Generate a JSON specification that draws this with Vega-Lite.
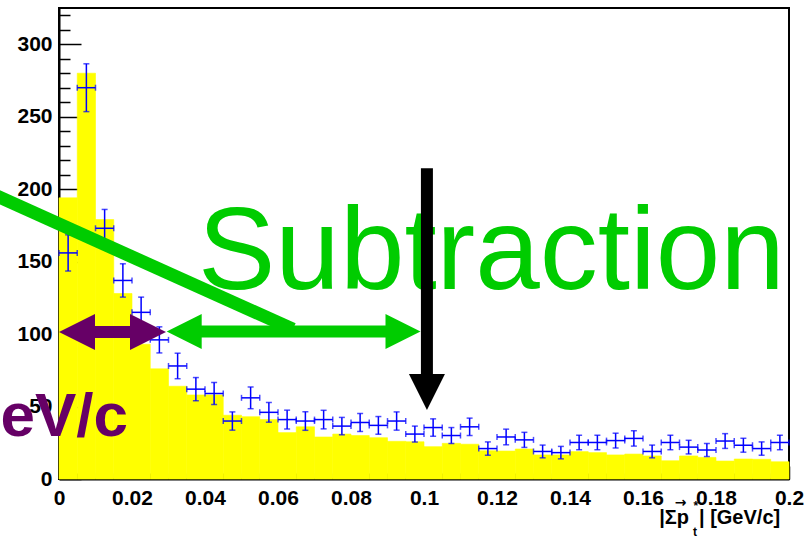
{
  "$schema": "https://vega.github.io/schema/vega-lite/v6.json",
  "width": 730,
  "height": 471,
  "autosize": {"type": "none"},
  "padding": {"left": 59, "top": 8, "right": 20, "bottom": 62},
  "background": "white",
  "config": {
    "view": {"stroke": "black", "strokeWidth": 2},
    "axis": {
      "labelFont": "Liberation Sans",
      "labelFontWeight": "bold",
      "labelFontSize": 21,
      "labelColor": "black",
      "domainColor": "black",
      "domainWidth": 2,
      "tickColor": "black",
      "tickWidth": 1.5,
      "grid": false,
      "labelFlush": false,
      "labelOverlap": false,
      "labelBound": false
    }
  },
  "resolve": {"axis": {"x": "independent", "y": "independent"}},
  "datasets": {
    "hist": [
      {"lo": 0.000, "hi": 0.005, "mid": 0.0025, "bg": 194, "sig": 156, "elo": 143.5, "ehi": 168.5},
      {"lo": 0.005, "hi": 0.010, "mid": 0.0075, "bg": 280, "sig": 270, "elo": 253.5, "ehi": 286.5},
      {"lo": 0.010, "hi": 0.015, "mid": 0.0125, "bg": 179, "sig": 173, "elo": 160, "ehi": 186},
      {"lo": 0.015, "hi": 0.020, "mid": 0.0175, "bg": 128, "sig": 137, "elo": 125.5, "ehi": 148.5},
      {"lo": 0.020, "hi": 0.025, "mid": 0.0225, "bg": 93, "sig": 115, "elo": 104.5, "ehi": 125.5},
      {"lo": 0.025, "hi": 0.030, "mid": 0.0275, "bg": 76, "sig": 96, "elo": 87, "ehi": 105},
      {"lo": 0.030, "hi": 0.035, "mid": 0.0325, "bg": 64, "sig": 78, "elo": 69.2, "ehi": 86.8},
      {"lo": 0.035, "hi": 0.040, "mid": 0.0375, "bg": 58, "sig": 62, "elo": 54, "ehi": 70},
      {"lo": 0.040, "hi": 0.045, "mid": 0.0425, "bg": 58, "sig": 59, "elo": 51.4, "ehi": 66.6},
      {"lo": 0.045, "hi": 0.050, "mid": 0.0475, "bg": 44, "sig": 40, "elo": 33.7, "ehi": 46.3},
      {"lo": 0.050, "hi": 0.055, "mid": 0.0525, "bg": 43, "sig": 56, "elo": 48.5, "ehi": 63.5},
      {"lo": 0.055, "hi": 0.060, "mid": 0.0575, "bg": 41, "sig": 46, "elo": 39.2, "ehi": 52.8},
      {"lo": 0.060, "hi": 0.065, "mid": 0.0625, "bg": 32, "sig": 41, "elo": 34.5, "ehi": 47.5},
      {"lo": 0.065, "hi": 0.070, "mid": 0.0675, "bg": 36, "sig": 40, "elo": 33.6, "ehi": 46.4},
      {"lo": 0.070, "hi": 0.075, "mid": 0.0725, "bg": 29, "sig": 41, "elo": 34.6, "ehi": 47.4},
      {"lo": 0.075, "hi": 0.080, "mid": 0.0775, "bg": 31, "sig": 36.5, "elo": 30.5, "ehi": 42.5},
      {"lo": 0.080, "hi": 0.085, "mid": 0.0825, "bg": 30, "sig": 39, "elo": 32.8, "ehi": 45.2},
      {"lo": 0.085, "hi": 0.090, "mid": 0.0875, "bg": 28.5, "sig": 37, "elo": 30.9, "ehi": 43.1},
      {"lo": 0.090, "hi": 0.095, "mid": 0.0925, "bg": 26, "sig": 40, "elo": 33.7, "ehi": 46.3},
      {"lo": 0.095, "hi": 0.100, "mid": 0.0975, "bg": 25.7, "sig": 31, "elo": 25.5, "ehi": 36.5},
      {"lo": 0.100, "hi": 0.105, "mid": 0.1025, "bg": 22.3, "sig": 35.5, "elo": 29.5, "ehi": 41.5},
      {"lo": 0.105, "hi": 0.110, "mid": 0.1075, "bg": 24.6, "sig": 30, "elo": 24.5, "ehi": 35.5},
      {"lo": 0.110, "hi": 0.115, "mid": 0.1125, "bg": 24, "sig": 36, "elo": 30, "ehi": 42},
      {"lo": 0.115, "hi": 0.120, "mid": 0.1175, "bg": 19.5, "sig": 21, "elo": 16.4, "ehi": 25.6},
      {"lo": 0.120, "hi": 0.125, "mid": 0.1225, "bg": 19.3, "sig": 29, "elo": 23.6, "ehi": 34.4},
      {"lo": 0.125, "hi": 0.130, "mid": 0.1275, "bg": 20.7, "sig": 27, "elo": 21.8, "ehi": 32.2},
      {"lo": 0.130, "hi": 0.135, "mid": 0.1325, "bg": 16.6, "sig": 19, "elo": 14.6, "ehi": 23.4},
      {"lo": 0.135, "hi": 0.140, "mid": 0.1375, "bg": 16.6, "sig": 18.2, "elo": 13.9, "ehi": 22.5},
      {"lo": 0.140, "hi": 0.145, "mid": 0.1425, "bg": 18.9, "sig": 25.2, "elo": 20.2, "ehi": 30.2},
      {"lo": 0.145, "hi": 0.150, "mid": 0.1475, "bg": 18.2, "sig": 25.2, "elo": 20.2, "ehi": 30.2},
      {"lo": 0.150, "hi": 0.155, "mid": 0.1525, "bg": 16.6, "sig": 26.5, "elo": 21.4, "ehi": 31.6},
      {"lo": 0.155, "hi": 0.160, "mid": 0.1575, "bg": 17.2, "sig": 28, "elo": 22.7, "ehi": 33.3},
      {"lo": 0.160, "hi": 0.165, "mid": 0.1625, "bg": 15.9, "sig": 19, "elo": 14.6, "ehi": 23.4},
      {"lo": 0.165, "hi": 0.170, "mid": 0.1675, "bg": 12.6, "sig": 25.2, "elo": 20.2, "ehi": 30.2},
      {"lo": 0.170, "hi": 0.175, "mid": 0.1725, "bg": 15.9, "sig": 22, "elo": 17.3, "ehi": 26.7},
      {"lo": 0.175, "hi": 0.180, "mid": 0.1775, "bg": 14.9, "sig": 20, "elo": 15.5, "ehi": 24.5},
      {"lo": 0.180, "hi": 0.185, "mid": 0.1825, "bg": 12.4, "sig": 26.2, "elo": 21.1, "ehi": 31.3},
      {"lo": 0.185, "hi": 0.190, "mid": 0.1875, "bg": 13.8, "sig": 23.3, "elo": 18.5, "ehi": 28.1},
      {"lo": 0.190, "hi": 0.195, "mid": 0.1925, "bg": 13.6, "sig": 21, "elo": 16.4, "ehi": 25.6},
      {"lo": 0.195, "hi": 0.200, "mid": 0.1975, "bg": 11.9, "sig": 25.2, "elo": 20.2, "ehi": 30.2}
    ]
  },
  "layer": [
    {
      "data": {"name": "hist"},
      "mark": {"type": "rect", "color": "#ffff00", "stroke": "#ffff00", "strokeWidth": 0.6},
      "encoding": {
        "x": {
          "field": "lo", "type": "quantitative", "title": null,
          "scale": {"domain": [0, 0.2], "nice": false, "zero": false},
          "axis": {
            "title": null,
            "values": [0, 0.005, 0.01, 0.015, 0.02, 0.025, 0.03, 0.035, 0.04, 0.045, 0.05, 0.055, 0.06, 0.065, 0.07, 0.075, 0.08, 0.085, 0.09, 0.095, 0.1, 0.105, 0.11, 0.115, 0.12, 0.125, 0.13, 0.135, 0.14, 0.145, 0.15, 0.155, 0.16, 0.165, 0.17, 0.175, 0.18, 0.185, 0.19, 0.195, 0.2],
            "labelExpr": "abs(datum.value*50 - round(datum.value*50)) < 1e-6 ? format(datum.value, '~g') : ''",
            "tickSize": {"condition": {"test": "abs(datum.value*50 - round(datum.value*50)) < 1e-6", "value": -13}, "value": -6},
            "labelPadding": 21
          }
        },
        "x2": {"field": "hi"},
        "y": {
          "field": "bg", "type": "quantitative", "title": null,
          "scale": {"domain": [0, 325], "nice": false, "zero": false},
          "axis": {
            "title": null,
            "values": [0, 10, 20, 30, 40, 50, 60, 70, 80, 90, 100, 110, 120, 130, 140, 150, 160, 170, 180, 190, 200, 210, 220, 230, 240, 250, 260, 270, 280, 290, 300, 310, 320],
            "labelExpr": "datum.value % 50 === 0 ? format(datum.value, 'd') : ''",
            "tickSize": {"condition": {"test": "datum.value % 50 === 0", "value": -22}, "value": -11},
            "labelPadding": 29
          }
        },
        "y2": {"datum": 0}
      }
    },
    {
      "data": {"name": "hist"},
      "mark": {"type": "rule", "color": "#0000ff", "strokeWidth": 1.5},
      "encoding": {
        "x": {"field": "lo", "type": "quantitative", "axis": null},
        "x2": {"field": "hi"},
        "y": {"field": "sig", "type": "quantitative", "axis": null}
      }
    },
    {
      "data": {"name": "hist"},
      "mark": {"type": "rule", "color": "#0000ff", "strokeWidth": 1.5},
      "encoding": {
        "x": {"field": "mid", "type": "quantitative", "axis": null},
        "y": {"field": "elo", "type": "quantitative", "axis": null},
        "y2": {"field": "ehi"}
      }
    },
    {
      "data": {"name": "hist"},
      "mark": {"type": "tick", "color": "#0000ff", "orient": "horizontal", "size": 6, "thickness": 1.5},
      "encoding": {
        "x": {"field": "mid", "type": "quantitative", "axis": null},
        "y": {"field": "elo", "type": "quantitative", "axis": null}
      }
    },
    {
      "data": {"name": "hist"},
      "mark": {"type": "tick", "color": "#0000ff", "orient": "horizontal", "size": 6, "thickness": 1.5},
      "encoding": {
        "x": {"field": "mid", "type": "quantitative", "axis": null},
        "y": {"field": "ehi", "type": "quantitative", "axis": null}
      }
    },
    {
      "data": {"name": "hist"},
      "mark": {"type": "tick", "color": "#0000ff", "orient": "vertical", "size": 6, "thickness": 1.5},
      "encoding": {
        "x": {"field": "lo", "type": "quantitative", "axis": null},
        "y": {"field": "sig", "type": "quantitative", "axis": null}
      }
    },
    {
      "data": {"name": "hist"},
      "mark": {"type": "tick", "color": "#0000ff", "orient": "vertical", "size": 6, "thickness": 1.5},
      "encoding": {
        "x": {"field": "hi", "type": "quantitative", "axis": null},
        "y": {"field": "sig", "type": "quantitative", "axis": null}
      }
    },
    {
      "data": {"values": [{"label": "Subtraction", "x": 0.03808, "y": 130.8}]},
      "mark": {"type": "text", "font": "Liberation Sans", "fontSize": 116, "color": "#00cc00", "align": "left", "baseline": "alphabetic"},
      "encoding": {
        "x": {"field": "x", "type": "quantitative", "axis": null},
        "y": {"field": "y", "type": "quantitative", "axis": null},
        "text": {"field": "label"}
      }
    },
    {
      "data": {"values": [{"x": -0.01753, "y": 195.8, "x2": 0.0641, "y2": 103.4}]},
      "mark": {"type": "rule", "color": "#00cc00", "strokeWidth": 13, "strokeCap": "butt"},
      "encoding": {
        "x": {"field": "x", "type": "quantitative", "axis": null},
        "y": {"field": "y", "type": "quantitative", "axis": null},
        "x2": {"field": "x2"},
        "y2": {"field": "y2"}
      }
    },
    {
      "data": {"values": [{"x": 0.0335, "x2": 0.0952, "y": 101.7}]},
      "mark": {"type": "rule", "color": "#00cc00", "strokeWidth": 12, "strokeCap": "butt"},
      "encoding": {
        "x": {"field": "x", "type": "quantitative", "axis": null},
        "x2": {"field": "x2"},
        "y": {"field": "y", "type": "quantitative", "axis": null}
      }
    },
    {
      "data": {"values": [{"x": 0.02951, "y": 101.7}]},
      "mark": {"type": "point", "shape": "M0,0L2,-1L2,1Z", "size": 1225, "filled": true, "opacity": 1, "color": "#00cc00", "strokeWidth": 0},
      "encoding": {
        "x": {"field": "x", "type": "quantitative", "axis": null},
        "y": {"field": "y", "type": "quantitative", "axis": null}
      }
    },
    {
      "data": {"values": [{"x": 0.09904, "y": 101.7}]},
      "mark": {"type": "point", "shape": "M0,0L-2,-1L-2,1Z", "size": 1225, "filled": true, "opacity": 1, "color": "#00cc00", "strokeWidth": 0},
      "encoding": {
        "x": {"field": "x", "type": "quantitative", "axis": null},
        "y": {"field": "y", "type": "quantitative", "axis": null}
      }
    },
    {
      "data": {"values": [{"x": 0.004, "x2": 0.0255, "y": 101.4}]},
      "mark": {"type": "rule", "color": "#660066", "strokeWidth": 12, "strokeCap": "butt"},
      "encoding": {
        "x": {"field": "x", "type": "quantitative", "axis": null},
        "x2": {"field": "x2"},
        "y": {"field": "y", "type": "quantitative", "axis": null}
      }
    },
    {
      "data": {"values": [{"x": 0.0, "y": 101.4}]},
      "mark": {"type": "point", "shape": "M0,0L2,-1L2,1Z", "size": 1296, "filled": true, "opacity": 1, "color": "#660066", "strokeWidth": 0},
      "encoding": {
        "x": {"field": "x", "type": "quantitative", "axis": null},
        "y": {"field": "y", "type": "quantitative", "axis": null}
      }
    },
    {
      "data": {"values": [{"x": 0.02932, "y": 101.4}]},
      "mark": {"type": "point", "shape": "M0,0L-2,-1L-2,1Z", "size": 1296, "filled": true, "opacity": 1, "color": "#660066", "strokeWidth": 0},
      "encoding": {
        "x": {"field": "x", "type": "quantitative", "axis": null},
        "y": {"field": "y", "type": "quantitative", "axis": null}
      }
    },
    {
      "data": {"values": [{"label": "eV/c", "x": 0.0189, "y": 29.7}]},
      "mark": {"type": "text", "font": "Liberation Sans", "fontWeight": "bold", "fontSize": 62, "color": "#660066", "align": "right", "baseline": "alphabetic"},
      "encoding": {
        "x": {"field": "x", "type": "quantitative", "axis": null},
        "y": {"field": "y", "type": "quantitative", "axis": null},
        "text": {"field": "label"}
      }
    },
    {
      "data": {"values": [{"x": 0.1008, "y": 214.5, "y2": 70}]},
      "mark": {"type": "rule", "color": "black", "strokeWidth": 12, "strokeCap": "butt"},
      "encoding": {
        "x": {"field": "x", "type": "quantitative", "axis": null},
        "y": {"field": "y", "type": "quantitative", "axis": null},
        "y2": {"field": "y2"}
      }
    },
    {
      "data": {"values": [{"x": 0.1008, "y": 47.6}]},
      "mark": {"type": "point", "shape": "M0,0L-1,-2L1,-2Z", "size": 1296, "filled": true, "opacity": 1, "color": "black", "strokeWidth": 0},
      "encoding": {
        "x": {"field": "x", "type": "quantitative", "axis": null},
        "y": {"field": "y", "type": "quantitative", "axis": null}
      }
    },
    {
      "data": {"values": [{"label": "|Σp", "x": 0.1726, "y": -31.0}]},
      "mark": {"type": "text", "font": "Liberation Sans", "fontWeight": "bold", "fontSize": 20, "color": "black", "align": "right", "baseline": "alphabetic"},
      "encoding": {
        "x": {"field": "x", "type": "quantitative", "axis": null},
        "y": {"field": "y", "type": "quantitative", "axis": null},
        "text": {"field": "label"}
      }
    },
    {
      "data": {"values": [{"label": "| [GeV/c]", "x": 0.17534, "y": -31.0}]},
      "mark": {"type": "text", "font": "Liberation Sans", "fontWeight": "bold", "fontSize": 20, "color": "black", "align": "left", "baseline": "alphabetic"},
      "encoding": {
        "x": {"field": "x", "type": "quantitative", "axis": null},
        "y": {"field": "y", "type": "quantitative", "axis": null},
        "text": {"field": "label"}
      }
    },
    {
      "data": {"values": [{"label": "t", "x": 0.17425, "y": -39.3}, {"label": "*", "x": 0.17445, "y": -21.5}]},
      "mark": {"type": "text", "font": "Liberation Sans", "fontWeight": "bold", "fontSize": 12, "color": "black", "align": "center", "baseline": "alphabetic"},
      "encoding": {
        "x": {"field": "x", "type": "quantitative", "axis": null},
        "y": {"field": "y", "type": "quantitative", "axis": null},
        "text": {"field": "label"}
      }
    },
    {
      "data": {"values": [{"label": "→", "x": 0.1703, "y": -19.0}]},
      "mark": {"type": "text", "font": "DejaVu Sans", "fontWeight": "bold", "fontSize": 14, "color": "black", "align": "center", "baseline": "alphabetic"},
      "encoding": {
        "x": {"field": "x", "type": "quantitative", "axis": null},
        "y": {"field": "y", "type": "quantitative", "axis": null},
        "text": {"field": "label"}
      }
    }
  ]
}
